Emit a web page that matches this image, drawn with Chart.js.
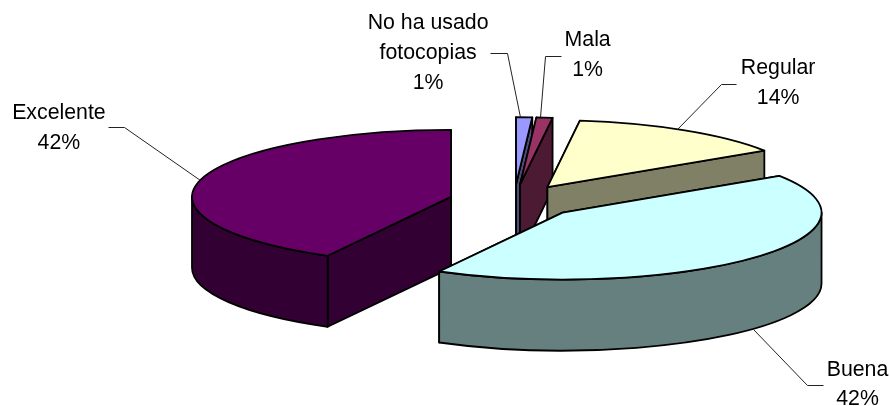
<!DOCTYPE html>
<html>
<head>
<meta charset="utf-8">
<style>html,body{margin:0;padding:0;background:#fff}canvas{display:block}</style>
<script src="https://cdn.jsdelivr.net/npm/chart.js@4"></script>
</head>
<body>
<canvas id="c" width="890" height="406"></canvas>
<script>
const categories = ['No ha usado fotocopias', 'Mala', 'Regular', 'Buena', 'Excelente'];
const values = [1, 1, 13.8, 42.1, 42.1];
const labelLines = [['No ha usado', 'fotocopias', '1%'], ['Mala', '1%'], ['Regular', '14%'], ['Buena', '42%'], ['Excelente', '42%']];
const topColors = ['#9999FF', '#993366', '#FFFFCC', '#CCFFFF', '#660066'];
const wallColors = ['#4D4D80', '#4D1A33', '#808066', '#668080', '#330033'];

// view settings of the tilted pie
const tilt = 67 / 259, depth = 71, drawOrder = [0, 1, 2, 4, 3];
const explodes = [65, 65, 63, 66, 65];
// where along each slice's arc the leader starts (0..1)
const leaderAnchors = [0.25, 0.2, 0.46, 0.5, 0.5];
// leader routing relative to the rim point: elbow dx, dy, end dx from the elbow
const leaders = [[-13.5, -64, -16.5], [5.5, -61, 16], [44, -45, 15], [54, 56, 16], [-76, -53, -16]];
// text block: centre x offset from leader end, first baseline offset from leader end, line height
const labelBlocks = [[-62, -24, 30], [26.5, -10, 30], [42, -10, 30], [34.5, -9, 29], [-49, -8, 30]];

function geom(el, i) {
  const p = el.getProps(['x', 'y', 'startAngle', 'endAngle', 'outerRadius'], true);
  const mid = (p.startAngle + p.endAngle) / 2;
  const explode = explodes[i];
  return {
    s: p.startAngle, e: p.endAngle, r: p.outerRadius, mid, explode,
    cy: p.y,
    ax: p.x + Math.cos(mid) * explode,
    ay: p.y + Math.sin(mid) * explode * tilt
  };
}
function wedge(ctx, g) {
  ctx.beginPath();
  ctx.moveTo(g.ax, g.ay);
  ctx.ellipse(g.ax, g.ay, g.r, g.r * tilt, 0, g.s, g.e);
  ctx.closePath();
}
function pt(g, a, dy) {
  return [g.ax + Math.cos(a) * g.r, g.ay + Math.sin(a) * g.r * tilt + dy];
}
function radialWall(ctx, g, a) {
  const o = pt(g, a, 0);
  ctx.beginPath();
  ctx.moveTo(g.ax, g.ay);
  ctx.lineTo(o[0], o[1]);
  ctx.lineTo(o[0], o[1] + depth);
  ctx.lineTo(g.ax, g.ay + depth);
  ctx.closePath();
  ctx.fill();
  ctx.stroke();
}
function rimWall(ctx, g) {
  // the part of the rim that faces the viewer (canvas angle between 0 and PI, modulo 2PI)
  const spans = [[0, Math.PI], [2 * Math.PI, 3 * Math.PI]];
  spans.forEach(sp => {
    const a = Math.max(g.s, sp[0]), b = Math.min(g.e, sp[1]);
    if (b <= a) return;
    ctx.beginPath();
    ctx.ellipse(g.ax, g.ay, g.r, g.r * tilt, 0, a, b);
    ctx.ellipse(g.ax, g.ay + depth, g.r, g.r * tilt, 0, b, a, true);
    ctx.closePath();
    ctx.fill();
    ctx.stroke();
  });
}

const pie3d = {
  id: 'pie3d',
  beforeDatasetDraw(chart, args) {
    const ctx = chart.ctx;
    drawOrder.forEach(i => {
      const el = args.meta.data[i], g = geom(el, i);
      ctx.save();
      ctx.lineWidth = 1.8;
      ctx.strokeStyle = '#000';
      ctx.lineJoin = 'round';
      ctx.fillStyle = wallColors[i];
      radialWall(ctx, g, g.s);
      radialWall(ctx, g, g.e);
      rimWall(ctx, g);
      // top face: the library's own arc, squashed and moved out
      ctx.save();
      ctx.translate(Math.cos(g.mid) * g.explode, g.cy + Math.sin(g.mid) * g.explode * tilt);
      ctx.scale(1, tilt);
      ctx.translate(0, -g.cy);
      el.draw(ctx);
      ctx.restore();
      wedge(ctx, g);
      ctx.stroke();
      ctx.restore();
    });
    return false;
  },
  afterDraw(chart) {
    const ctx = chart.ctx, meta = chart.getDatasetMeta(0);
    ctx.save();
    meta.data.forEach((el, i) => {
      const g = geom(el, i);
      const a = g.s + (g.e - g.s) * leaderAnchors[i];
      const rim = pt(g, a, Math.sin(a) > 0 ? depth : 0);
      const L = leaders[i], B = labelBlocks[i];
      const ex = rim[0] + L[0], ey = rim[1] + L[1], fx = ex + L[2];
      ctx.strokeStyle = '#222';
      ctx.lineWidth = 1;
      ctx.beginPath();
      ctx.moveTo(Math.round(rim[0]) + .5, Math.round(rim[1]) + .5);
      ctx.lineTo(Math.round(ex) + .5, Math.round(ey) + .5);
      ctx.lineTo(Math.round(fx) + .5, Math.round(ey) + .5);
      ctx.stroke();
      ctx.fillStyle = '#000';
      ctx.font = '21.3px "Liberation Sans", Arial, sans-serif';
      ctx.textAlign = 'center';
      ctx.textBaseline = 'alphabetic';
      labelLines[i].forEach((t, n) => ctx.fillText(t, fx + B[0], ey + B[1] + n * B[2]));
    });
    ctx.restore();
  }
};

new Chart(document.getElementById('c'), {
  type: 'pie',
  data: {
    labels: categories,
    datasets: [{
      data: values,
      backgroundColor: topColors,
      borderWidth: 0,
      clip: false
    }]
  },
  options: {
    responsive: false,
    animation: false,
    radius: 259,
    rotation: 0,
    layout: { padding: { left: 138, right: 0, top: 0, bottom: 4 } },
    plugins: { legend: { display: false }, tooltip: { enabled: false } }
  },
  plugins: [pie3d]
});
</script>
</body>
</html>
